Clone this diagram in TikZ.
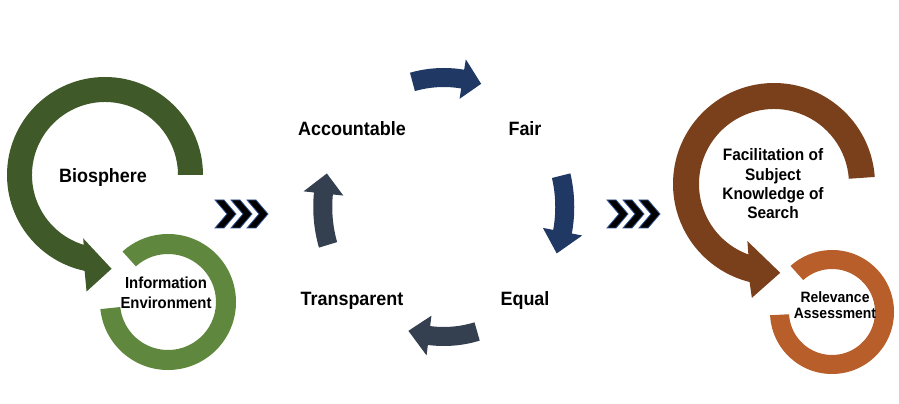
\documentclass[tikz,border=0pt]{standalone}
\usepackage{fontspec}
\setmainfont{Liberation Sans}[FakeStretch=0.93]
\usepackage{xcolor}
\definecolor{bioGreen}{RGB}{63,90,40}
\definecolor{envGreen}{RGB}{95,135,62}
\definecolor{cycNavy}{RGB}{32,56,100}
\definecolor{cycSlate}{RGB}{52,63,80}
\definecolor{facBrown}{RGB}{122,63,27}
\definecolor{relOrange}{RGB}{184,94,42}
\definecolor{chevBlue}{RGB}{47,85,151}
\tikzset{
  lbl/.style={font=\fontsize{19.3}{21}\selectfont\bfseries,align=center,inner sep=0pt},
  sublbl/.style={font=\fontsize{16}{19.5}\selectfont\bfseries,align=center,inner sep=0pt},
  chev/.style={fill=black,draw=chevBlue,line width=0.8pt,line join=miter}
}

\begin{document}
\begin{tikzpicture}[x=1pt,y=1pt]
  \useasboundingbox (0,0) rectangle (899,404);
  % left pair of rings
  \begin{scope}[shift={(105,229)}]
    \fill[bioGreen] (0:98) arc[start angle=0,end angle=258,radius=98]
      -- (261:118) -- (274:94) -- (251:67) -- (253:73)
      arc[start angle=253,end angle=0,radius=73] -- cycle;
  \end{scope}
  \begin{scope}[shift={(168,102)}]
    \fill[envGreen] (186:68) arc[start angle=186,end angle=492,radius=68]
      -- (492:48) arc[start angle=492,end angle=186,radius=48] -- cycle;
  \end{scope}
  \node[lbl] (bio) at (103,226) {Biosphere};
  \node[sublbl] (infoenv) at (166,111) {Information\\Environment};

  % chevrons
  \foreach \cx in {215,607}{
    \foreach \i in {0,1,2}
      \filldraw[chev,shift={(\cx+\i*16,190)}] (0,14) -- (9,14) -- (21,0) -- (9,-14) -- (0,-14) -- (12,0) -- cycle;
  }

  % cycle of four curved arrows: start/base/tip angles
  \begin{scope}[shift={(443.75,197)}]
    \foreach \s/\b/\t/\col in {105/81/72/cycNavy,14/-11/-21/cycNavy,-74/-97/-107/cycSlate,197/174/165/cycSlate}{
      \fill[\col] (\s:130.5 and 139) arc[start angle=\s,end angle=\b,x radius=130.5,y radius=139]
        -- (\b:141 and 149.5) -- (\t:121 and 129.5) -- (\b:101 and 109.5) -- (\b:111.5 and 120)
        arc[start angle=\b,end angle=\s,x radius=111.5,y radius=120] -- cycle;
    }
  \end{scope}
  \node[lbl] (acc) at (352,275) {Accountable};
  \node[lbl] (fair) at (525,275) {Fair};
  \node[lbl] (transp) at (352,103) {Transparent};
  \node[lbl] (equal) at (525,103) {Equal};

  % right pair of rings
  \begin{scope}[shift={(774,220)}]
    \fill[facBrown] (4:101) arc[start angle=4,end angle=256,radius=101]
      -- (259:116) -- (274:89) -- (245:63) -- (250:75)
      arc[start angle=250,end angle=4,radius=75] -- cycle;
  \end{scope}
  \begin{scope}[shift={(832,92)}]
    \fill[relOrange] (183:62) arc[start angle=183,end angle=492,radius=62]
      -- (492:43) arc[start angle=492,end angle=183,radius=43] -- cycle;
  \end{scope}
  \node[sublbl,font=\fontsize{16.6}{19.3}\selectfont\bfseries] (facil) at (773,220) {Facilitation of\\Subject\\Knowledge of\\Search};
  \node[sublbl,font=\fontsize{15}{16.5}\selectfont\bfseries] (relev) at (835,99) {Relevance\\Assessment};
\end{tikzpicture}
\end{document}
